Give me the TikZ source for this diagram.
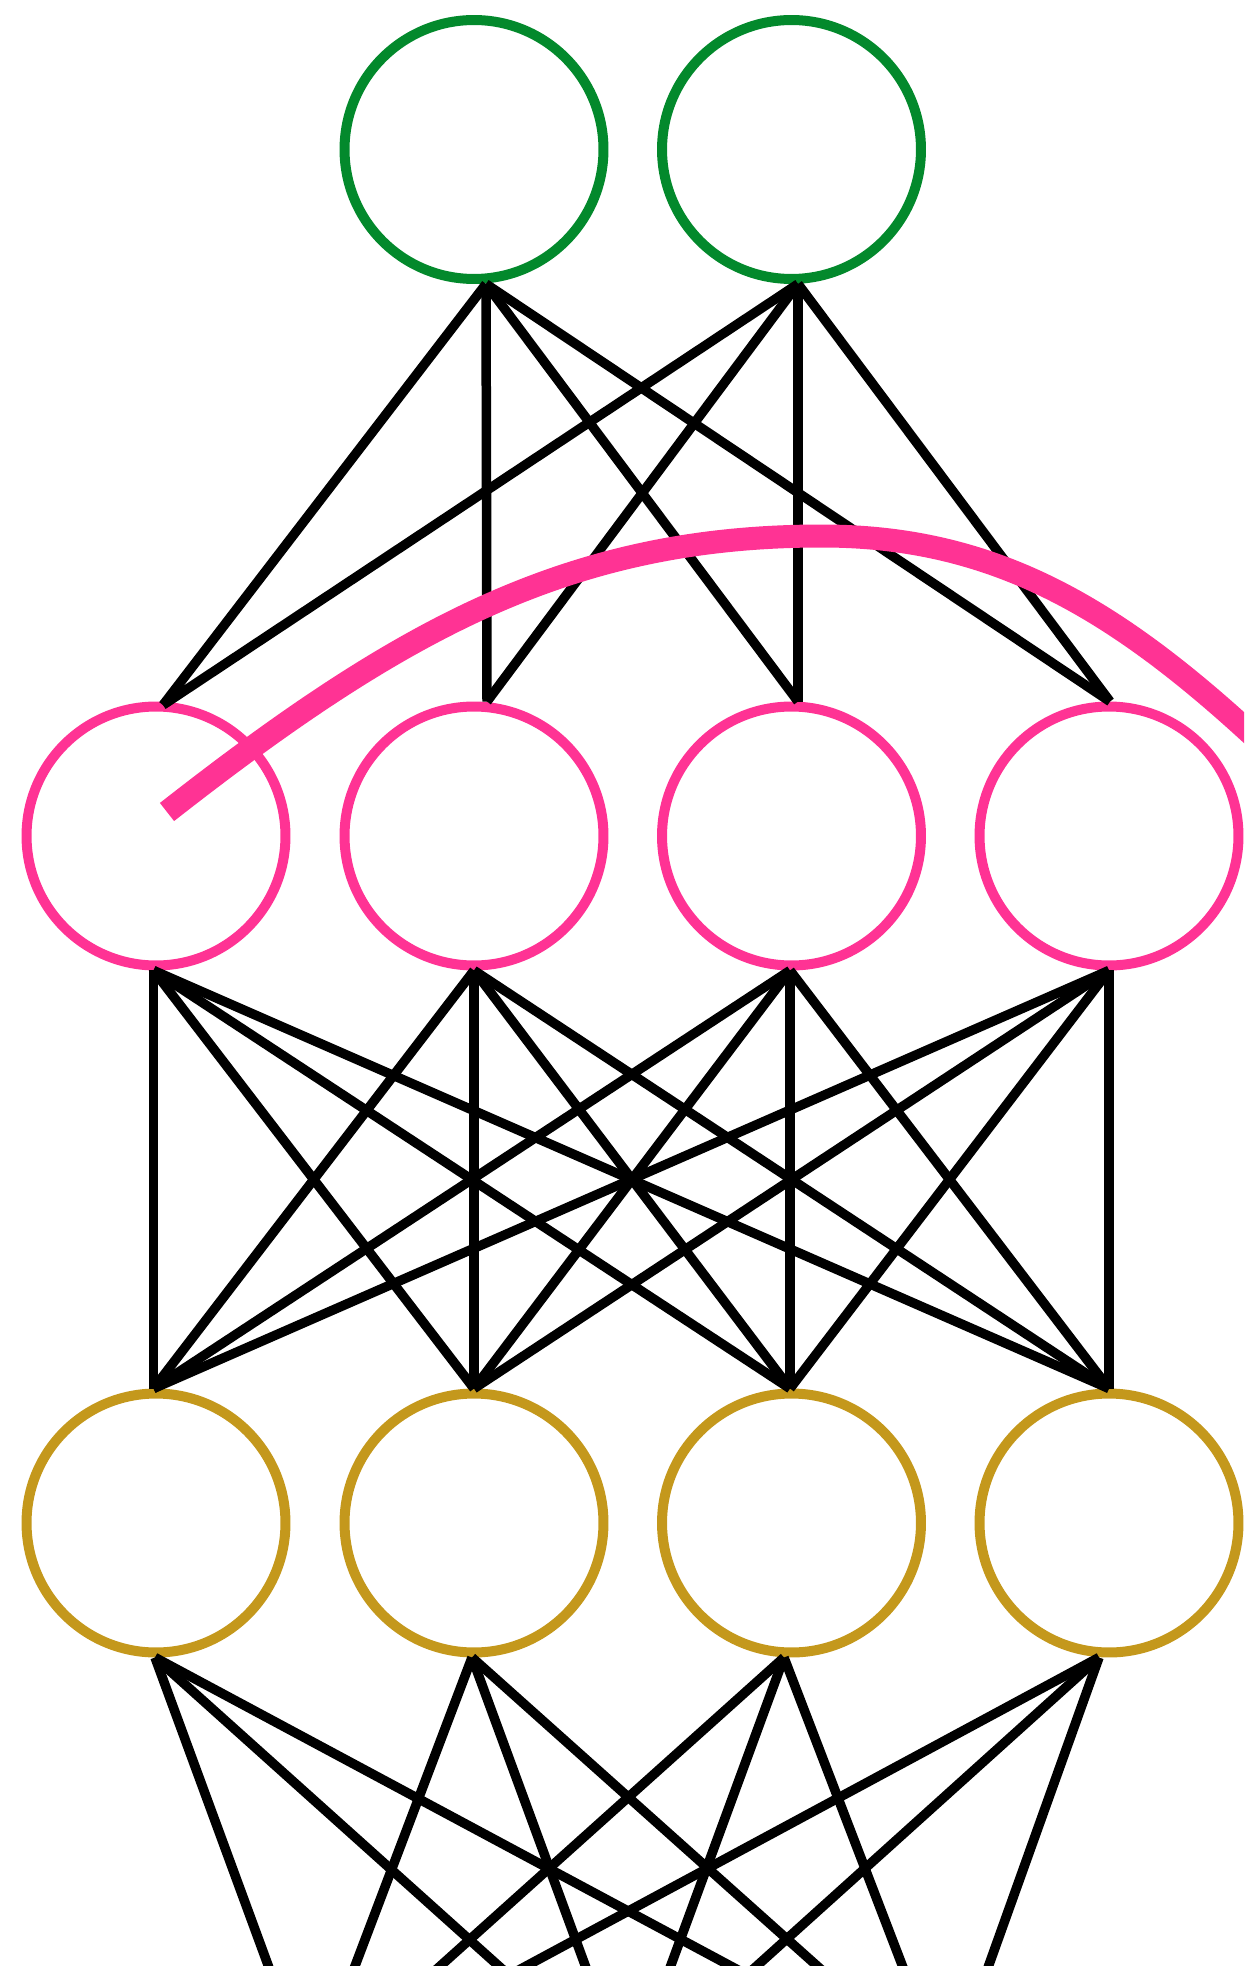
\documentclass[tikz,border=0pt]{standalone}
\usetikzlibrary{calc}
\definecolor{ngreen}{RGB}{3,137,44}
\definecolor{npink}{RGB}{255,51,148}
\definecolor{ngold}{RGB}{196,152,28}
\begin{document}
\begin{tikzpicture}[x=0.02cm,y=-0.02cm,
  neuron/.style={circle, draw, line width=0.2cm, minimum size=5.18cm, inner sep=0pt},
  inlayer/.style={neuron, draw=ngreen},
  hidlayer/.style={neuron, draw=npink},
  outlayer/.style={neuron, draw=ngold},
  wire/.style={line width=0.19cm, black},
  recur/.style={line width=0.46cm, npink}]
\useasboundingbox (0,0) rectangle (1244,1966);
\clip (0,0) rectangle (1244,1966);
% nodes
\node[inlayer] (g1) at (474,149.5) {};
\node[inlayer] (g2) at (791.5,149.5) {};
\foreach \i/\x in {1/156,2/474,3/791.5,4/1109} {
  \node[hidlayer] (p\i) at (\x,836) {};
  \node[outlayer] (y\i) at (\x,1523) {};
}
% connection points
\coordinate (g1o) at ([xshift=0.24cm]g1.south);
\coordinate (g2o) at ([xshift=0.13cm]g2.south);
\coordinate (p1i) at ([xshift=0.14cm,yshift=-0.07cm]p1.north);
\coordinate (p2i) at ([xshift=0.26cm]p2.north);
\coordinate (p3i) at ([xshift=0.13cm]p3.north);
\coordinate (p4i) at ([xshift=0.02cm]p4.north);
\coordinate (p1o) at ([xshift=-0.05cm]p1.south);
\coordinate (p2o) at (p2.south);
\coordinate (p3o) at ([xshift=-0.03cm]p3.south);
\coordinate (p4o) at (p4.south);
\coordinate (y1i) at ([xshift=-0.05cm]y1.north);
\coordinate (y2i) at (y2.north);
\coordinate (y3i) at ([xshift=-0.03cm]y3.north);
\coordinate (y4i) at (y4.north);
\coordinate (y1o) at ([xshift=-0.02cm]y1.south);
\coordinate (y2o) at ([xshift=-0.04cm]y2.south);
\coordinate (y3o) at ([xshift=-0.15cm]y3.south);
\coordinate (y4o) at ([xshift=-0.2cm]y4.south);
% next layer (outside the frame)
\coordinate (t1) at (311,2082);
\coordinate (t2) at (628,2082);
\coordinate (t3) at (947,2082);
% connectors
\foreach \a in {g1o,g2o}
  \foreach \b in {p1i,p2i,p3i,p4i}
    \draw[wire] (\a) -- (\b);
\foreach \i in {1,...,4}
  \foreach \j in {1,...,4}
    \draw[wire] (p\i o) -- (y\j i);
\foreach \i in {1,...,4}
  \foreach \j in {1,2,3}
    \draw[wire] (y\i o) -- (t\j);
% recurrent arc
\coordinate (rs) at (167,812);
\coordinate (rt) at (822,536);
\coordinate (re) at (1330,810);
\draw[recur] (rs) .. controls (403,627) and (572,536) .. (rt)
  .. controls (1022,536) and (1153,633) .. (re);
\end{tikzpicture}
\end{document}
